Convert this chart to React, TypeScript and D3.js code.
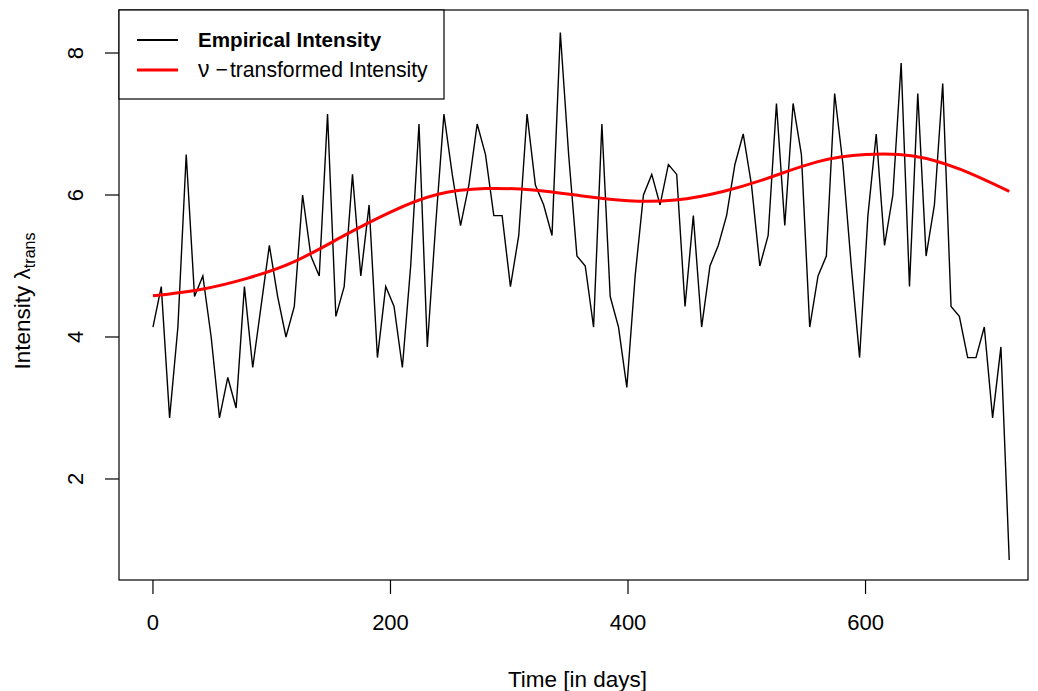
import React from 'react';
import * as d3 from 'd3';

const W = 1038, H = 691;
const margin = { top: 10, right: 10, bottom: 111, left: 119 };

// weekly observations, days 0..721
const days = d3.range(0, 728, 7);
const empirical = [
  4.14, 4.71, 2.86, 4.14, 6.57, 4.57, 4.86, 4.00, 2.86, 3.43,
  3.00, 4.71, 3.57, 4.43, 5.29, 4.57, 4.00, 4.43, 6.00, 5.14,
  4.86, 7.14, 4.29, 4.71, 6.29, 4.86, 5.86, 3.71, 4.71, 4.43,
  3.57, 5.00, 7.00, 3.86, 5.57, 7.14, 6.29, 5.57, 6.14, 7.00,
  6.57, 5.71, 5.71, 4.71, 5.43, 7.14, 6.14, 5.86, 5.43, 8.29,
  6.57, 5.14, 5.00, 4.14, 7.00, 4.57, 4.14, 3.29, 4.86, 6.00,
  6.29, 5.86, 6.43, 6.29, 4.43, 5.71, 4.14, 5.00, 5.29, 5.71,
  6.43, 6.86, 6.14, 5.00, 5.43, 7.29, 5.57, 7.29, 6.57, 4.14,
  4.86, 5.14, 7.43, 6.43, 5.00, 3.71, 5.71, 6.86, 5.29, 6.00,
  7.86, 4.71, 7.43, 5.14, 5.86, 7.57, 4.43, 4.29, 3.71, 3.71,
  4.14, 2.86, 3.86, 0.86,
];

// nu-transformed (smooth) intensity
const smoothDays = [0, 40, 80, 120, 160, 200, 240, 280, 320, 360, 400, 440, 480, 520, 560, 600, 640, 680, 721];
const smoothValues = [4.58, 4.67, 4.83, 5.07, 5.42, 5.76, 6.01, 6.09, 6.07, 5.99, 5.92, 5.93, 6.05, 6.25, 6.47, 6.57, 6.55, 6.36, 6.05];

const xTicks = [0, 200, 400, 600];
const yTicks = [2, 4, 6, 8];

const font = '"Liberation Sans", Arial, Helvetica, sans-serif';

export default function App() {
  const x = d3.scaleLinear().domain([-28.6, 736.8]).range([margin.left, W - margin.right]);
  const y = d3.scaleLinear().domain([0.577, 8.606]).range([H - margin.bottom, margin.top]);

  const empLine = d3.line<number>().x((_, i) => x(days[i])).y(d => y(d));
  const smoothLine = d3.line<number>().x((_, i) => x(smoothDays[i])).y(d => y(d)).curve(d3.curveNatural);

  const bottom = H - margin.bottom;
  const plotMidX = (margin.left + W - margin.right) / 2;

  return (
    <div style={{ position: 'absolute', left: 0, top: 0 }}>
      <svg width={W} height={H} style={{ display: 'block', background: '#fff' }} fontFamily={font}>
        <path d={empLine(empirical) || ''} fill="none" stroke="#000" strokeWidth={1.4} />
        <path d={smoothLine(smoothValues) || ''} fill="none" stroke="#ff0000" strokeWidth={3} />

        <rect x={margin.left} y={margin.top} width={W - margin.left - margin.right} height={bottom - margin.top}
          fill="none" stroke="#000" strokeWidth={1.2} />

        {/* x axis */}
        {xTicks.map(t => (
          <g key={t}>
            <line x1={x(t)} x2={x(t)} y1={bottom} y2={bottom + 14} stroke="#000" strokeWidth={1.2} />
            <text x={x(t)} y={630} textAnchor="middle" fontSize={22}>{t}</text>
          </g>
        ))}
        <text x={plotMidX + 4} y={687} textAnchor="middle" fontSize={22.5}>Time [in days]</text>

        {/* y axis */}
        {yTicks.map(t => (
          <g key={t}>
            <line x1={margin.left} x2={margin.left - 14} y1={y(t)} y2={y(t)} stroke="#000" strokeWidth={1.2} />
            <text transform={`translate(83,${y(t)}) rotate(-90)`} textAnchor="middle" fontSize={22}>{t}</text>
          </g>
        ))}
        <text transform={`translate(30,${(margin.top + bottom) / 2 + 6}) rotate(-90)`} textAnchor="middle" fontSize={22.5}>
          Intensity λ<tspan fontSize={16} dy={5}>trans</tspan>
        </text>

        {/* legend */}
        <rect x={margin.left} y={margin.top} width={325} height={89} fill="#fff" stroke="#000" strokeWidth={1.2} />
        <line x1={137} x2={178} y1={40} y2={40} stroke="#000" strokeWidth={2} />
        <text x={198} y={47} fontSize={20.6} fontWeight="bold">Empirical Intensity</text>
        <line x1={137} x2={178} y1={70} y2={70} stroke="#ff0000" strokeWidth={3} />
        <text x={198} y={77} fontSize={21.2}>
          <tspan fontSize={23}>ν</tspan><tspan dx={6}>−</tspan><tspan dx={2}>transformed Intensity</tspan>
        </text>
      </svg>
    </div>
  );
}
